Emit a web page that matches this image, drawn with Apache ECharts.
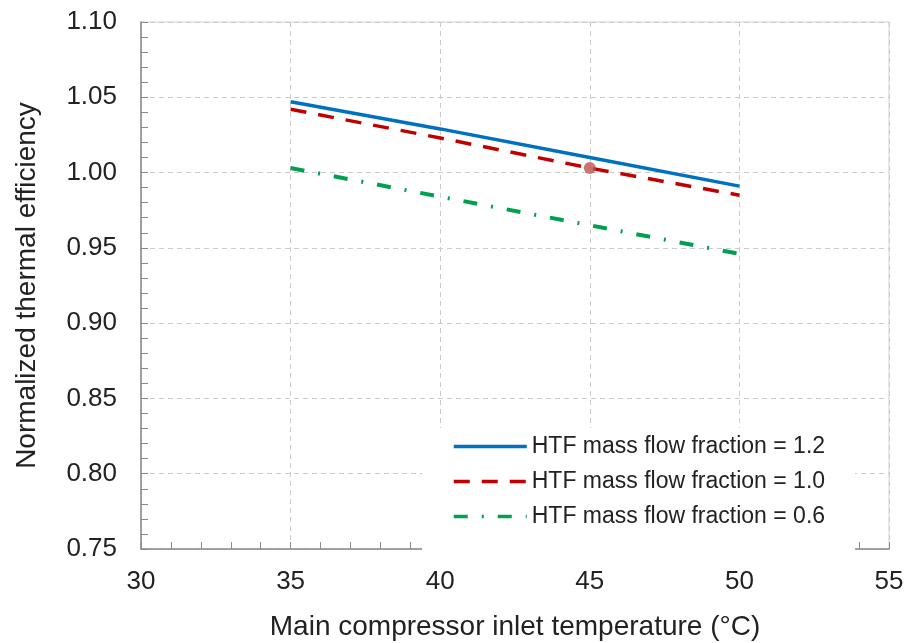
<!DOCTYPE html>
<html>
<head>
<meta charset="utf-8">
<script src="https://cdn.jsdelivr.net/npm/echarts@6/dist/echarts.min.js"></script>
<style>
  html, body { margin: 0; padding: 0; background: #fff; }
  #chart { width: 906px; height: 643px; }
</style>
</head>
<body>
<div id="chart"></div>
<script>
  // values
  let temps = [35, 40, 45, 50]
  let eff12 = [1.047, 1.029, 1.010, 0.991]
  let eff10 = [1.042, 1.023, 1.003, 0.985]
  let eff06 = [1.003, 0.984, 0.965, 0.946]
  let designPoint = [[45, 1.003]]
  let names = ['HTF mass flow fraction = 1.2', 'HTF mass flow fraction = 1.0', 'HTF mass flow fraction = 0.6']

  let font = '"Liberation Sans", Arial, sans-serif'
  let axisColor = '#8a8a8a'
  let gridColor = '#cbcbcb'

  function pairs(xs, ys){
    return xs.map(function(x, i){ return [x, ys[i]] })
  }

  let chart = echarts.init(document.getElementById('chart'))
  let option = {
    animation: false,
    grid: {
      left: 141,
      right: 17,
      top: 22,
      bottom: 94,
      outerBoundsMode: 'none',
      show: true,
      borderColor: '#d2d2d2',
      borderWidth: 1
    },
    legend: {
      orient: 'vertical',
      left: 422,
      top: 428,
      padding: [7, 30, 24, 30],
      itemGap: 12,
      itemWidth: 73,
      itemHeight: 14,
      itemStyle: { opacity: 0 },
      lineStyle: { width: 3.5 },
      backgroundColor: '#fff',
      data: names,
      textStyle: { fontFamily: font, fontSize: 23, color: '#222' }
    },
    xAxis: {
      type: 'value',
      min: 30,
      max: 55,
      interval: 5,
      name: 'Main compressor inlet temperature (°C)',
      nameLocation: 'middle',
      nameGap: 64,
      nameTextStyle: { fontFamily: font, fontSize: 28, color: '#222' },
      axisLine: { show: true, lineStyle: { color: axisColor, width: 1.5 } },
      axisTick: { show: true, inside: true, length: 7, lineStyle: { color: axisColor } },
      minorTick: { show: true, splitNumber: 5, length: 7, lineStyle: { color: axisColor } },
      axisLabel: { fontFamily: font, fontSize: 26, color: '#222', margin: 20 },
      splitLine: { show: true, lineStyle: { color: gridColor, type: [5, 4] } }
    },
    yAxis: {
      type: 'value',
      min: 0.75,
      max: 1.10,
      interval: 0.05,
      name: 'Normalized thermal efficiency',
      nameLocation: 'middle',
      nameGap: 100,
      nameTextStyle: { fontFamily: font, fontSize: 28, color: '#222' },
      axisLine: { show: true, lineStyle: { color: axisColor, width: 1.5 } },
      axisTick: { show: true, inside: true, length: 7, lineStyle: { color: axisColor } },
      minorTick: { show: true, splitNumber: 5, length: 7, lineStyle: { color: axisColor } },
      axisLabel: {
        fontFamily: font, fontSize: 26, color: '#222', margin: 24,
        formatter: function(v){ return v.toFixed(2) }
      },
      splitLine: { show: true, lineStyle: { color: gridColor, type: [5, 4] } }
    },
    series: [
      {
        name: names[0],
        type: 'line',
        symbol: 'none',
        data: pairs(temps, eff12),
        lineStyle: { color: '#0070C0', width: 3.5 },
        itemStyle: { color: '#0070C0' }
      },
      {
        name: names[1],
        type: 'line',
        symbol: 'none',
        data: pairs(temps, eff10),
        lineStyle: { color: '#C00000', width: 3.5, type: [16, 12] },
        itemStyle: { color: '#C00000' }
      },
      {
        name: names[2],
        type: 'line',
        symbol: 'none',
        data: pairs(temps, eff06),
        lineStyle: { color: '#00A050', width: 4, type: [14, 14, 2, 14] },
        itemStyle: { color: '#00A050' }
      },
      {
        name: 'design',
        type: 'scatter',
        symbol: 'circle',
        symbolSize: 12,
        data: designPoint,
        itemStyle: { color: '#C0504D' },
        z: 5
      }
    ]
  }
  chart.setOption(option)
</script>
</body>
</html>
